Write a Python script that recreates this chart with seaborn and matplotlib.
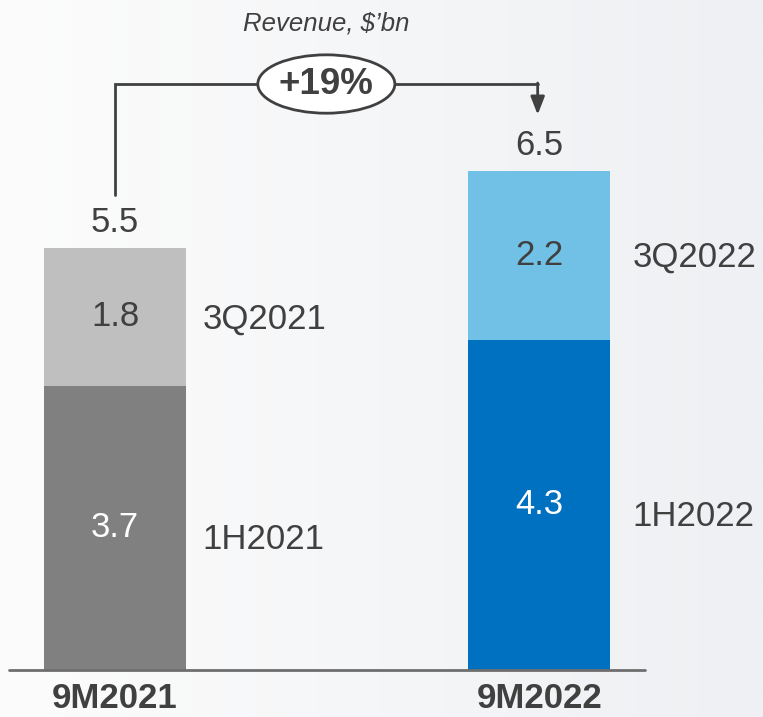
import numpy as np
import pandas as pd
import matplotlib
matplotlib.use("Agg")
import matplotlib.pyplot as plt
from matplotlib.patches import Ellipse
import seaborn as sns

# Revenue data, $bn
periods = ["9M2021", "9M2022"]
first_half = [3.7, 4.3]
third_quarter = [1.8, 2.2]
totals = [5.5, 6.5]
first_half_labels = ["1H2021", "1H2022"]
third_quarter_labels = ["3Q2021", "3Q2022"]
growth_label = "+19%"
title = "Revenue, $\u2019bn"

dark_cols = ["#808080", "#0070c0"]
light_cols = ["#bfbfbf", "#71c0e5"]
text_col = "#404040"

sns.set_theme(style="white")
plt.rcParams["font.family"] = ["Liberation Sans", "DejaVu Sans"]

W, H = 763, 717
fig = plt.figure(figsize=(W / 100, H / 100), dpi=100)

# soft left-to-right background gradient
bg = fig.add_axes([0, 0, 1, 1], zorder=-5)
grad = np.linspace(0, 1, 256)[None, :]
cmap = matplotlib.colors.LinearSegmentedColormap.from_list("bg", ["#fcfcfc", "#eef0f3"])
bg.imshow(grad, aspect="auto", cmap=cmap, extent=[0, 1, 0, 1])
bg.set_axis_off()

ax = fig.add_axes([0, 47 / H, 1, 670 / H])
ax.set_facecolor("none")

df = pd.DataFrame({"period": periods, "total": totals, "h1": first_half, "q3": third_quarter})

# stacked bars: full total in light shade, first-half portion overlaid in dark shade
sns.barplot(data=df, x="period", y="total", hue="period", palette=light_cols,
            width=0.334, legend=False, ax=ax, saturation=1, linewidth=0)
sns.barplot(data=df, x="period", y="h1", hue="period", palette=dark_cols,
            width=0.334, legend=False, ax=ax, saturation=1, linewidth=0)

ax.set_xlim(-0.271, 1.527)
ax.set_ylim(0, 670 / 76.8)
for s in ax.spines.values():
    s.set_visible(False)
ax.set_yticks([])
ax.set_xticks([])
ax.set_xlabel("")
ax.set_ylabel("")
ax.axhline(0, xmin=9 / W, xmax=645 / W, color="#6e6e6e", lw=2, zorder=5, clip_on=False)

# period names under the bars
for i, p in enumerate(periods):
    x_fig = (115 + i * 424.5) / W
    fig.text(x_fig, 1.5 / H, p, ha="center", va="bottom", fontsize=25,
             fontweight="bold", color=text_col)

side_x = [0.207, 1.220]
for i in range(len(periods)):
    h1, q3, tot = first_half[i], third_quarter[i], totals[i]
    ax.text(i, h1 / 2, f"{h1:.1f}", ha="center", va="center", fontsize=25, color="white")
    ax.text(i, h1 + q3 / 2, f"{q3:.1f}", ha="center", va="center", fontsize=25, color=text_col)
    ax.text(i, tot + 0.33, f"{tot:.1f}", ha="center", va="center", fontsize=25, color=text_col)
    ax.text(side_x[i], h1 / 2 - 0.15, first_half_labels[i], ha="left", va="center",
            fontsize=25, color=text_col)
    ax.text(side_x[i], h1 + q3 / 2 - 0.03, third_quarter_labels[i], ha="left", va="center",
            fontsize=25, color=text_col)

# growth bracket from first total to second
y_top = 7.63
ax.plot([0, 0, 0.5], [6.18, y_top, y_top], color=text_col, lw=2, solid_joinstyle="miter",
        zorder=6, clip_on=False)
ax.plot([0.5, 0.996], [y_top, y_top], color=text_col, lw=2, zorder=6)
ax.annotate("", xy=(0.996, 7.23), xytext=(0.996, y_top + 0.013),
            arrowprops=dict(arrowstyle="-|>,head_length=0.9,head_width=0.35",
                            color=text_col, lw=2, shrinkA=0, shrinkB=0))
ell = Ellipse((0.498, y_top), width=0.323, height=0.76, facecolor="white",
              edgecolor=text_col, lw=2, zorder=7)
ax.add_patch(ell)
ax.text(0.498, y_top, growth_label, ha="center", va="center", fontsize=26.5,
        fontweight="bold", color=text_col, zorder=8)

fig.text(326 / W, 1 - 24 / H, title, ha="center", va="center", fontsize=18.5,
         style="italic", color=text_col)

fig.savefig("out.png", dpi=100)
